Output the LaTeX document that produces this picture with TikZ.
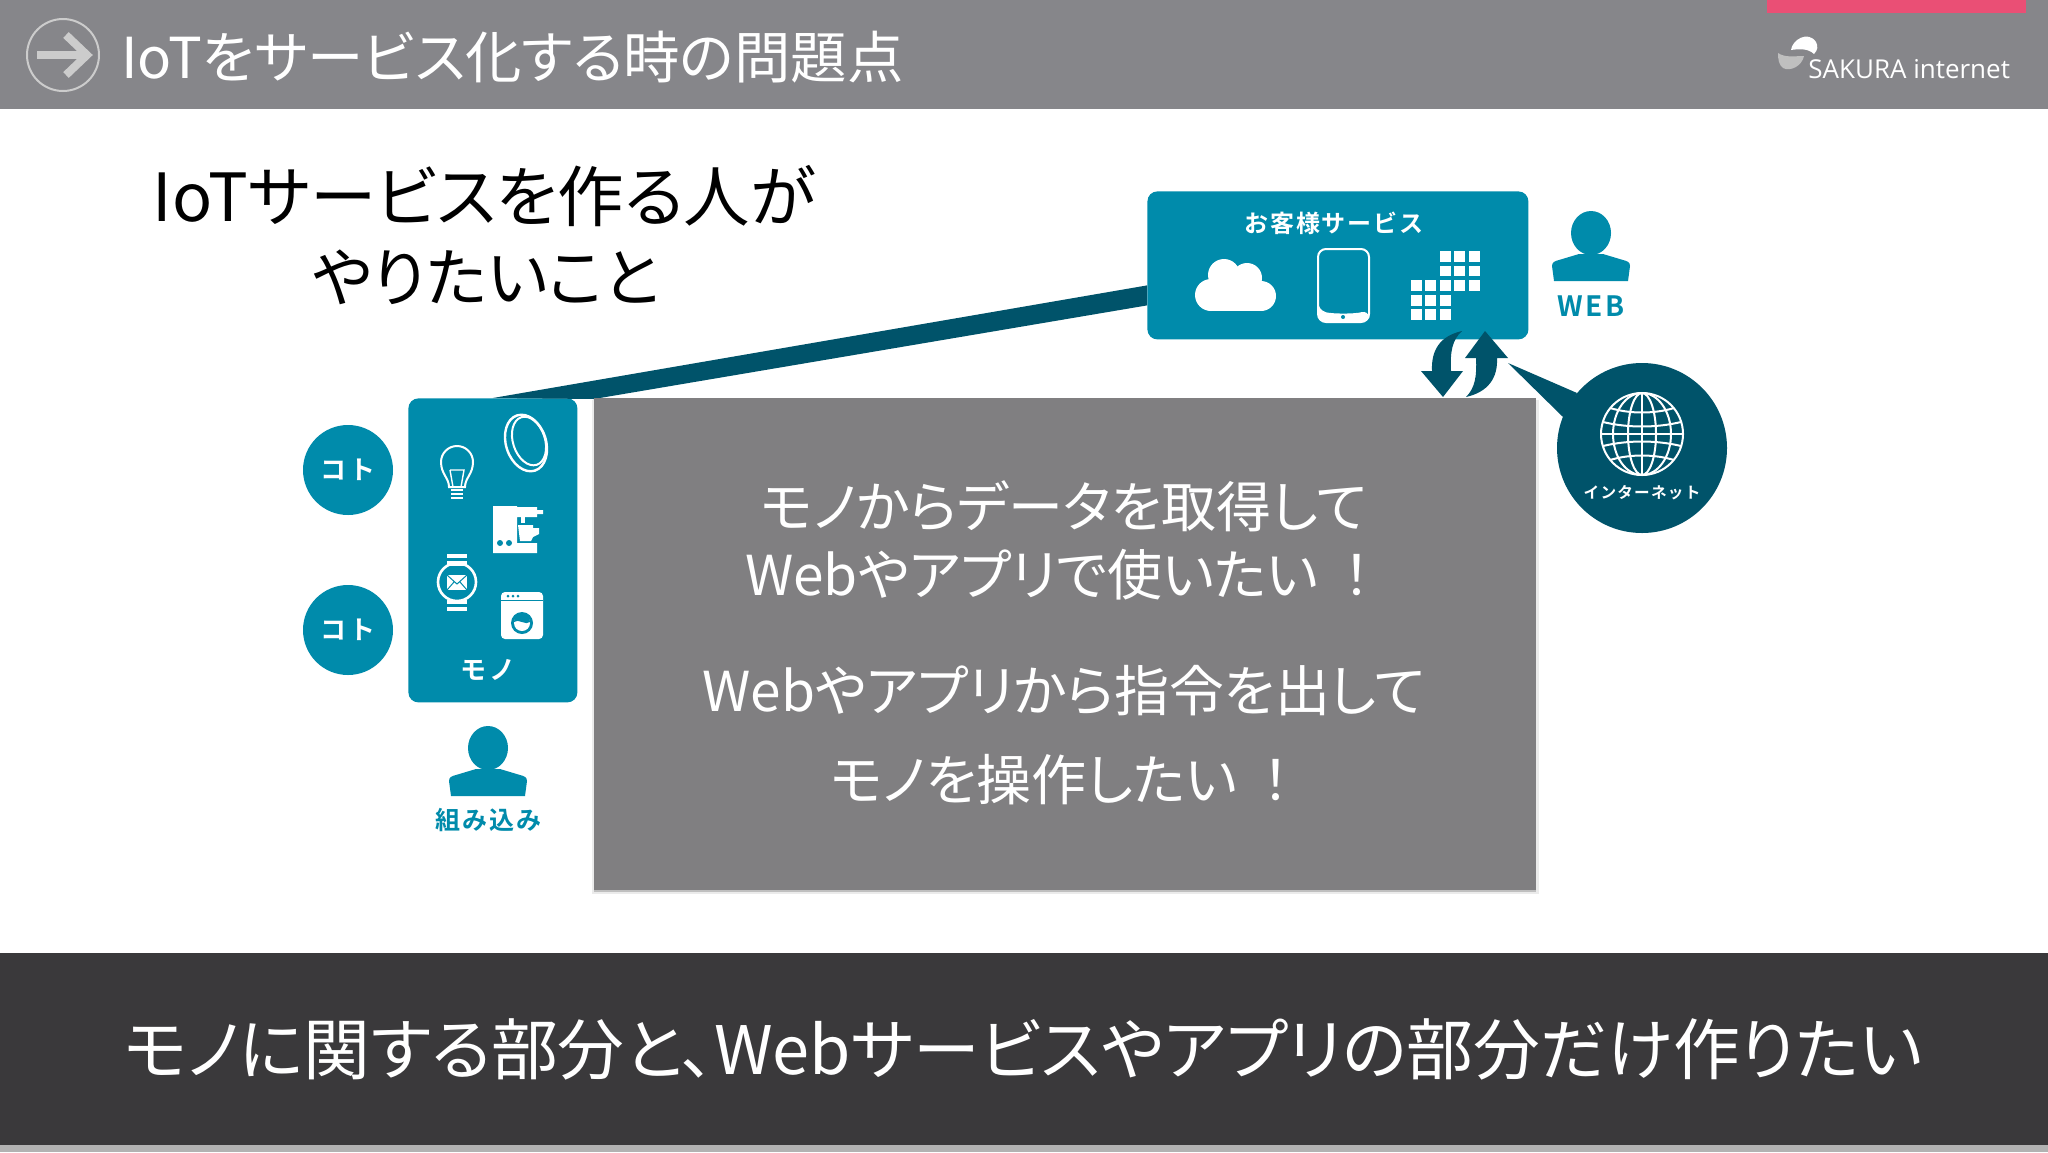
\documentclass[tikz,border=0pt]{standalone}
\usepackage{fontspec}
\usepackage{xcolor}
\setmainfont[RawFeature={+palt}]{Noto Sans CJK JP}
\newfontfamily\logofont{Open Sans}
\newfontfamily\widefont[LetterSpace=8]{Noto Sans CJK JP Bold}
\usetikzlibrary{positioning,calc}
\definecolor{headgray}{HTML}{86868A}
\definecolor{bandgray}{HTML}{3A393B}
\definecolor{panelgray}{HTML}{807F81}
\definecolor{iotteal}{HTML}{008BAB}
\definecolor{darkteal}{HTML}{00536A}
\definecolor{pinkbar}{HTML}{EA4F75}
\tikzset{
  tealbox/.style={fill=iotteal,rounded corners=5pt,inner sep=0pt,anchor=north west},
  kotocirc/.style={circle,fill=iotteal,text=white,inner sep=0pt,minimum size=45pt,font=\widefont\fontsize{13}{14}\selectfont},
  whitetxt/.style={text=white,inner sep=0pt},
  paneltxt/.style={text=white,inner sep=0pt,font=\fontsize{27.5}{32}\selectfont},
  iconline/.style={draw=white,line width=1pt,fill=none},
  persontxt/.style={text=iotteal,inner sep=0pt,font=\widefont\fontsize{12.5}{15}\selectfont},
  person/.pic={
    \fill[iotteal] (0,0) ellipse [x radius=20,y radius=22];
    \fill[iotteal] (-37,48) -- (-39,33) .. controls (-39,29) and (-36,28) .. (-32,27) -- (-12,21) -- (12,21) -- (32,27) .. controls (36,28) and (39,29) .. (39,33) -- (37,48) -- cycle;
  }
}
\begin{document}
\begin{tikzpicture}[x=0.5pt,y=-0.5pt]
  \useasboundingbox (0,0) rectangle (2048,1152);
  \fill[white] (0,0) rectangle (2048,1152);

  % header
  \fill[headgray] (0,0) rectangle (2048,109);
  \fill[pinkbar] (1767,0) rectangle (2026,13);
  \draw[white!80!black,line width=1pt] (63,55) circle [radius=36];
  \draw[white!80!black,line width=4pt] (37,55) -- (86,55);
  \draw[white!80!black,line width=4pt] (66,35) -- (87,55) -- (66,75);
  \node[whitetxt,anchor=west,font=\fontsize{28.2}{32}\selectfont] (headtitle) at (121,57) {IoTをサービス化する時の問題点};
  \fill[white!75!black] (1778,53) .. controls (1785,58) and (1795,56) .. (1804,56) .. controls (1802,66) and (1790,72) .. (1783,68) .. controls (1779,65) and (1778,60) .. (1778,53) -- cycle; % logo
  \fill[white] (1791,50) .. controls (1792,40) and (1808,30) .. (1816,42) .. controls (1818,46) and (1818,50) .. (1814,54) .. controls (1808,48) and (1798,49) .. (1791,50) -- cycle;
  \node[whitetxt,anchor=west,font=\logofont\fontsize{13}{14}\selectfont] (logotext) at (1808,69) {SAKURA internet};

  % heading
  \node[inner sep=0pt,font=\fontsize{33.2}{38}\selectfont] (headline) at (484,196) {IoTサービスを作る人が};
  \node[inner sep=0pt,font=\fontsize{32}{38}\selectfont] (headlinetwo) at (486,277) {やりたいこと};

  % boxes
  \node[tealbox,minimum width=190.5pt,minimum height=74pt] (service) at (1147,191) {};
  \node[tealbox,minimum width=84.5pt,minimum height=152pt] (mono) at (408,398) {};
  \fill[darkteal] (mono.north) -- ($(service.west)+(0,20)$) -- ($(service.west)+(0,40)$) -- ($(mono.north)+(101,1)$) -- cycle;
  \node[kotocirc] (kotoa) at (348,470) {\raisebox{-1pt}{コト}};
  \node[kotocirc] (kotob) at (348,630) {\raisebox{-1pt}{コト}};

  % service box content
  \node[whitetxt,font=\widefont\fontsize{12}{14}\selectfont] (servicetitle) at (1334,223) {お客様サービス};
  \fill[white] (1224,275) circle [radius=16];
  \fill[white] (1247,278) circle [radius=15];
  \fill[white] (1211,295) circle [radius=16];
  \fill[white] (1261,296) circle [radius=15];
  \fill[white] (1211,285) rectangle (1261,311); % cloud
  \draw[iconline,rounded corners=4pt] (1318,249) rectangle (1369,322); % phone
  \fill[white,rounded corners=4pt] (1318,310) -- (1318,322) -- (1369,322) -- (1369,310) .. controls (1355,314) and (1332,314) .. (1318,310) -- cycle;
  \fill[iotteal] (1343,317) circle [radius=2];
  \foreach \gx in {1439.5,1454,1468.5}
    \foreach \gy in {251,265.5,280}
      \fill[white] (\gx,\gy) rectangle ++(11,10.5);
  \foreach \gx in {1410.5,1425,1439.5}
    \foreach \gy in {280,295,309}
      \fill[white] (\gx,\gy) rectangle ++(11,10.5);
  \pic at (1591,233) {person};
  \node[persontxt,font=\widefont\fontsize{14}{16}\selectfont] (webtxt) at (1591,306) {WEB};

  % arrows between web and panel
  \fill[darkteal] (1462,331) .. controls (1440,336) and (1431,350) .. (1432,371) -- (1421,371) -- (1443,397) -- (1463,371) -- (1451,371) .. controls (1450,352) and (1452,340) .. (1462,331) -- cycle;
  \fill[darkteal] (1466,397) .. controls (1488,392) and (1498,378) .. (1497,358) -- (1508,358) -- (1485,331) -- (1465,358) -- (1476,358) .. controls (1477,376) and (1475,388) .. (1466,397) -- cycle;

  % internet
  \node[circle,fill=darkteal,minimum size=85pt,inner sep=0pt] (inet) at (1642,448) {};
  \coordinate (inettip) at (1508,363);
  \fill[darkteal] (inettip) -- (1577,393) -- (1563,417) -- cycle;
  \draw[iconline] (1642,434) circle [radius=41];
  \foreach \erx in {14,29}
    \draw[iconline] (1642,434) ellipse [x radius=\erx,y radius=41];
  \draw[iconline] (1642,393) -- (1642,475);
  \draw[iconline] (1601,434) -- (1683,434);
  \draw[iconline] (1610,408) .. controls (1630,414) and (1654,414) .. (1674,408);
  \draw[iconline] (1610,460) .. controls (1630,454) and (1654,454) .. (1674,460);
  \draw[iconline] (1603,422) .. controls (1628,428) and (1656,428) .. (1681,422);
  \draw[iconline] (1603,446) .. controls (1628,440) and (1656,440) .. (1681,446);
  \node[whitetxt,font=\widefont\fontsize{7.8}{9}\selectfont] (inettxt) at (1642,493) {インターネット};

  % panel
  \fill[black!8] (592,400) rectangle (1539,894);
  \fill[black!25] (594,888) rectangle (1536,892);
  \node[fill=panelgray,minimum width=471pt,minimum height=246pt,inner sep=0pt,anchor=north west] (panel) at (594,398) {};
  \node[paneltxt] (panela) at (1064,506) {モノからデータを取得して};
  \node[paneltxt] (panelb) at (1058,575) {Webやアプリで使いたい\hspace{.45em}！};
  \node[paneltxt] (panelc) at (1064,691) {Webやアプリから指令を出して};
  \node[paneltxt] (paneld) at (1060,780) {モノを操作したい\hspace{.45em}！};

  % mono box content
  \draw[iconline,line width=1.2pt,rotate around={18:(526,443)}] (526,443) ellipse [x radius=20,y radius=29]; % ring
  \draw[iconline,line width=1pt,rotate around={18:(529,441)}] (529,441) ellipse [x radius=16,y radius=25];
  \draw[iconline] (449,487) .. controls (449,478) and (441,474) .. (441,462) arc [start angle=180,end angle=360,radius=16] .. controls (473,474) and (465,478) .. (465,487) -- cycle; % bulb
  \draw[iconline,line width=0.7pt] (450,470) -- (464,470) -- (461,487) (450,470) -- (453,487);
  \foreach \by in {490,494,498}
    \draw[iconline] (451,\by) -- (463,\by);
  \fill[white] (493,506) -- (517,506) -- (517,507) -- (537,507) -- (537,510) -- (543,510) -- (543,514) -- (537,514) -- (537,517) -- (517,517) -- (517,543) -- (537,543) -- (537,553) -- (493,553) -- cycle; % coffee
  \fill[white] (518,525) -- (533,525) -- (533,528) -- (539,528) -- (539,534) -- (533,537) -- (531,541) -- (520,541) -- cycle;
  \fill[white] (521,517) rectangle (525,523);
  \fill[iotteal] (500,543) circle [radius=3];
  \fill[iotteal] (509,543) circle [radius=3];
  \fill[white] (447,554) rectangle (467,558);
  \fill[white] (447,561) rectangle (467,566); % watch
  \fill[white] (447,600) rectangle (467,604);
  \fill[white] (447,607) rectangle (467,611);
  \draw[iconline,line width=1.3pt] (457,582) circle [radius=19];
  \fill[white] (447,575) rectangle (467,590);
  \draw[iotteal,line width=0.5pt] (447,575) -- (457,584) -- (467,575) (447,590) -- (454,582) (467,590) -- (460,582);
  \fill[white,rounded corners=2pt] (501,592) rectangle (543,639); % washer
  \fill[iotteal] (508,596) circle [radius=1.5];
  \fill[iotteal] (513,596) circle [radius=1.5];
  \fill[iotteal] (518,596) circle [radius=1.5];
  \draw[iotteal,line width=0.5pt] (501,600) -- (543,600);
  \fill[iotteal] (522,623) circle [radius=11];
  \fill[white] (522,623) circle [radius=8];
  \fill[iotteal] (514,622) .. controls (518,618) and (526,626) .. (530,622) arc [start angle=0,end angle=-180,radius=8];
  \node[whitetxt,font=\widefont\fontsize{13}{14}\selectfont] (monotxt) at (488,670) {モノ};

  % embedded person
  \pic at (488,748) {person};
  \node[persontxt] (kumitxt) at (488,820) {組み込み};

  % bottom band
  \fill[bandgray] (0,953) rectangle (2048,1145);
  \fill[black!30] (0,1145) rectangle (2048,1152);
  \node[whitetxt,font=\fontsize{33.4}{36}\selectfont] (bandtxt) at (1023,1049) {モノに関する部分と、Webサービスやアプリの部分だけ作りたい};
\end{tikzpicture}
\end{document}
